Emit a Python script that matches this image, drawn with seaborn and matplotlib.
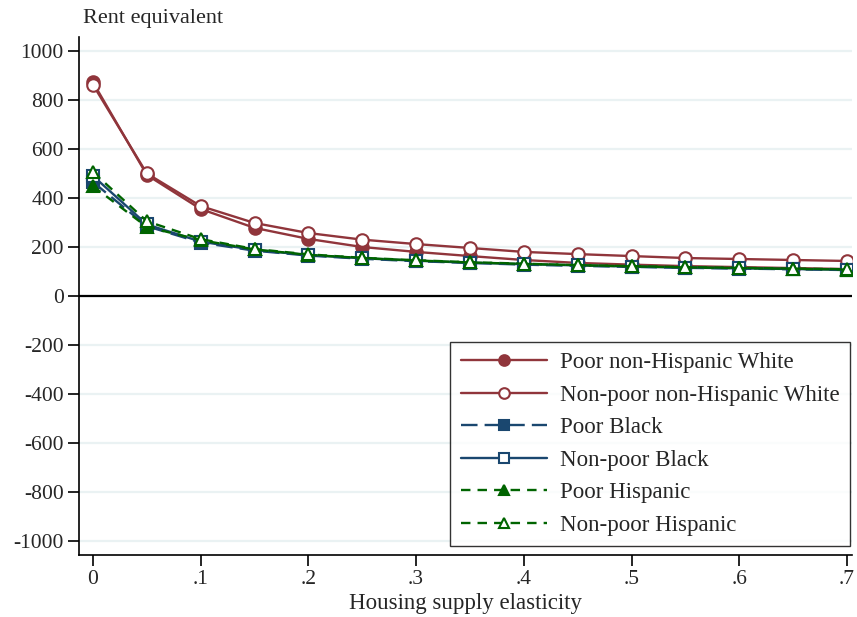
import matplotlib
matplotlib.use("Agg")
import matplotlib.pyplot as plt
import seaborn as sns
import pandas as pd
import numpy as np

elasticity = [0, .05, .1, .15, .2, .25, .3, .35, .4, .45, .5, .55, .6, .65, .7]
poor_white = [872, 494, 355, 278, 233, 200, 180, 163, 147, 135, 128, 122, 118, 114, 110]
nonpoor_white = [862, 500, 367, 298, 257, 230, 212, 196, 180, 171, 163, 155, 151, 147, 143]
poor_black = [465, 285, 218, 185, 165, 152, 142, 135, 128, 123, 119, 115, 112, 109, 106]
nonpoor_black = [490, 292, 222, 188, 167, 154, 144, 136, 130, 125, 120, 116, 113, 110, 107]
poor_hisp = [448, 282, 228, 190, 168, 155, 145, 137, 131, 126, 121, 117, 114, 111, 108]
nonpoor_hisp = [506, 305, 232, 192, 170, 156, 146, 138, 132, 126, 122, 118, 115, 112, 109]

labels = ["Poor non-Hispanic White", "Non-poor non-Hispanic White", "Poor Black",
          "Non-poor Black", "Poor Hispanic", "Non-poor Hispanic"]
series = [poor_white, nonpoor_white, poor_black, nonpoor_black, poor_hisp, nonpoor_hisp]
yticks = [-1000, -800, -600, -400, -200, 0, 200, 400, 600, 800, 1000]
xticks = [0, .1, .2, .3, .4, .5, .6, .7]
xticklabels = ["0", ".1", ".2", ".3", ".4", ".5", ".6", ".7"]

sns.set_style("white")
plt.rcParams['font.family'] = ['Liberation Serif', 'DejaVu Serif']

RED = "#90353B"
BLUE = "#1A476F"
GREEN = "#006400"
styles = [
    dict(color=RED, marker="o", linestyle="-", mfc=RED, ms=9),
    dict(color=RED, marker="o", linestyle="-", mfc="white", ms=9),
    dict(color=BLUE, marker="s", linestyle=(0, (7, 3)), mfc=BLUE, ms=8),
    dict(color=BLUE, marker="s", linestyle="-", mfc="white", ms=8),
    dict(color=GREEN, marker="^", linestyle=(0, (4, 3)), mfc=GREEN, ms=9),
    dict(color=GREEN, marker="^", linestyle=(0, (4, 3)), mfc="white", ms=9),
]

fig = plt.figure(figsize=(8.57, 6.17), dpi=100)
ax = fig.add_axes([0.0922, 0.1005, 0.9018, 0.8395])

for lab, vals, st in zip(labels, series, styles):
    df = pd.DataFrame({"x": elasticity, "y": vals})
    sns.lineplot(data=df, x="x", y="y", ax=ax, color=st["color"], marker=st["marker"],
                 linestyle=st["linestyle"], markerfacecolor=st["mfc"],
                 markeredgecolor=st["color"], markeredgewidth=1.5, markersize=st["ms"],
                 linewidth=1.7, label=lab, errorbar=None)

ax.axhline(0, color="black", linewidth=1.6, zorder=1)
ax.set_xlim(-0.013, 0.7046)
ax.set_ylim(-1057, 1057)
ax.set_yticks(yticks)
ax.set_yticklabels([str(v) for v in yticks])
ax.set_xticks(xticks)
ax.set_xticklabels(xticklabels)
ax.yaxis.grid(True, color="#EAF2F3", linewidth=1.6)
ax.set_axisbelow(True)
for s in ["top", "right"]:
    ax.spines[s].set_visible(False)
for s in ["left", "bottom"]:
    ax.spines[s].set_color("black")
    ax.spines[s].set_linewidth(1.2)
ax.tick_params(axis="both", which="both", direction="out", length=8, width=1.2,
               color="black", labelsize=15.5, left=True, bottom=True, pad=3)
ax.set_xlabel("Housing supply elasticity", fontsize=16.5, labelpad=3)
ax.set_ylabel("")
fig.text(83 / 857, 1 - 18 / 617, "Rent equivalent", fontsize=16, ha="left", va="center")

leg = ax.legend(loc="lower right", bbox_to_anchor=(0.997, 0.017), frameon=True, fontsize=16.5,
                fancybox=False, edgecolor="black", handlelength=3.75, borderpad=0.45,
                labelspacing=0.5, handletextpad=0.57, borderaxespad=0.0, markerscale=0.85)
leg.get_frame().set_linewidth(1.0)

fig.savefig("out.png", dpi=100)
